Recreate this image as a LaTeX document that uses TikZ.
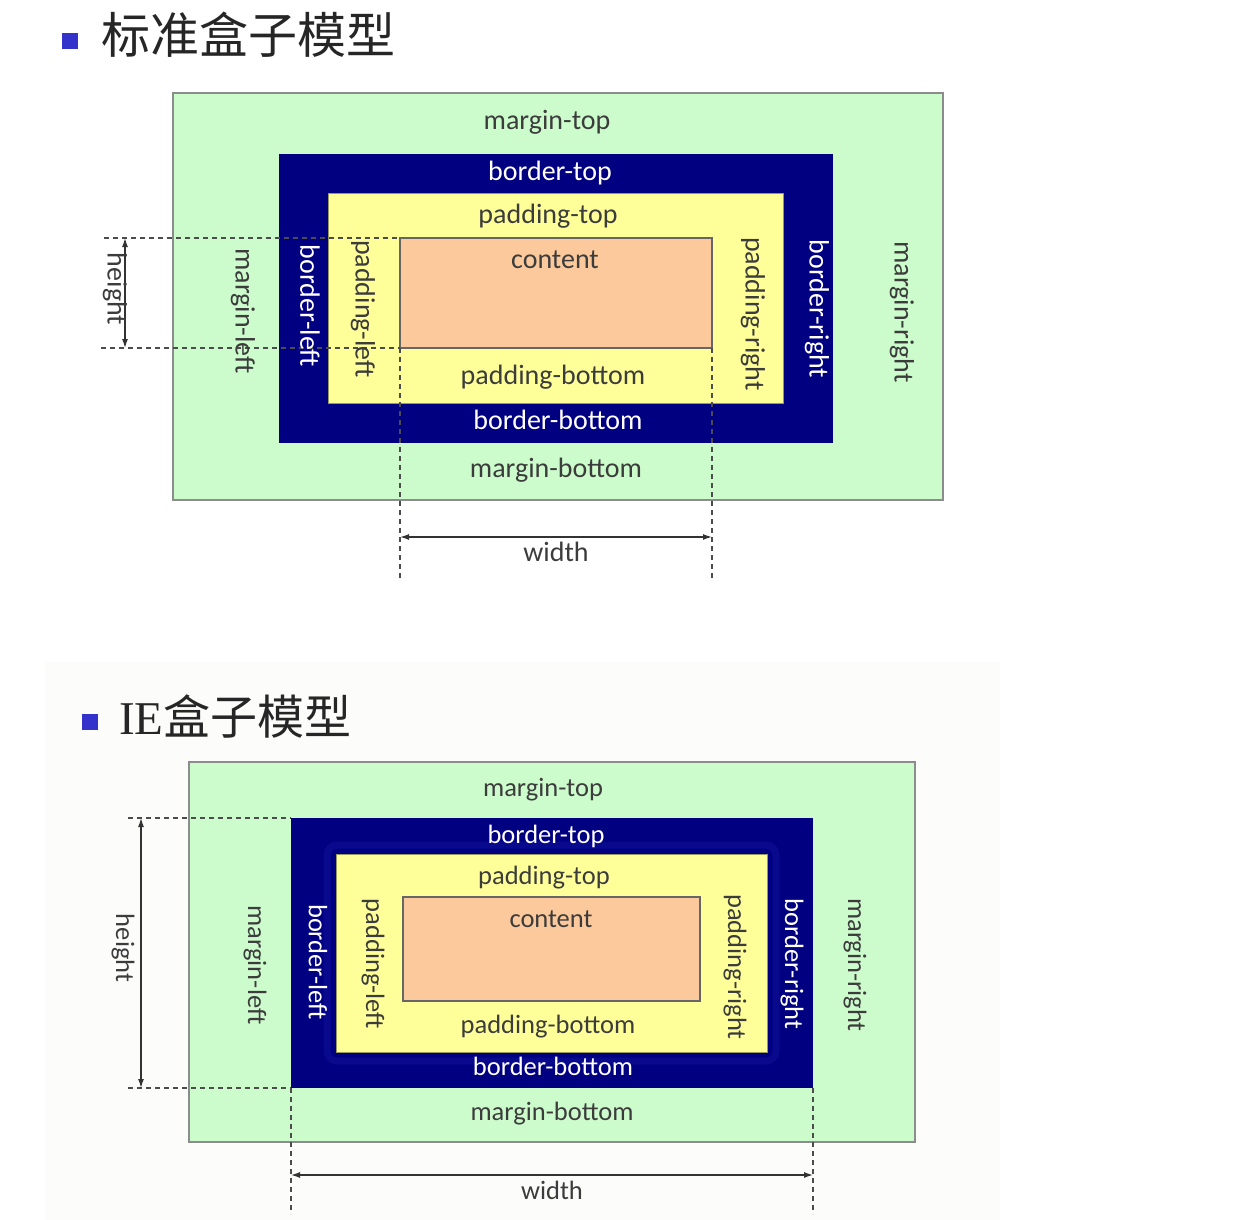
\documentclass[tikz,border=0pt]{standalone}
\usepackage{fontspec}
\setmainfont{Carlito}
\newfontfamily\cjkfont{Noto Sans CJK SC}
\newfontfamily\serifl{Liberation Serif}
\usetikzlibrary{arrows.meta}
\definecolor{mgreen}{HTML}{CCFBCC}
\definecolor{bnavy}{HTML}{000080}
\definecolor{pyellow}{HTML}{FFFF99}
\definecolor{cpeach}{HTML}{FBC99B}
\definecolor{txtgray}{HTML}{3C3C3C}
\definecolor{bulletblue}{HTML}{3333CC}
\definecolor{ringblue}{HTML}{1414A0}
\definecolor{faintbg}{HTML}{FCFCFB}
\begin{document}
\begin{tikzpicture}[x=1pt,y=-1pt,
  box/.style={rectangle, inner sep=0pt, outer sep=0pt},
  marginbox/.style={box, fill=mgreen, draw=black!45, line width=1.5pt},
  borderbox/.style={box, fill=bnavy},
  paddingbox/.style={box, fill=pyellow, draw=pyellow!60!black, line width=0.6pt},
  contentbox/.style={box, fill=cpeach, draw=black!60, line width=1.4pt},
  lbl/.style={text=txtgray, inner sep=0pt, font=\fontsize{28}{28}\selectfont},
  wlbl/.style={lbl, text=white},
  lbltwo/.style={text=txtgray, inner sep=0pt, font=\fontsize{26.5}{26.5}\selectfont},
  wlbltwo/.style={lbltwo, text=white},
  vl/.style={rotate=-90, anchor=center},
  hl/.style={anchor=base},
  dimline/.style={draw=black!70, line width=1.2pt, dash pattern=on 5pt off 4pt},
  dimarrow/.style={draw=black!80, line width=1.3pt, {Latex[length=9pt,width=6pt]}-{Latex[length=9pt,width=6pt]}},
  bulletsq/.style={box, fill=bulletblue, minimum size=16pt},
  titletxt/.style={anchor=west, inner sep=0pt, text=black!85},
]
\useasboundingbox (0,0) rectangle (1240,1220);
\fill[white] (0,0) rectangle (1240,1220);
\fill[faintbg] (45,662) rectangle (1000,1220);

% ---------- Standard box model ----------
\node[bulletsq] (bul1) at (70,41) {};
\node[titletxt, font=\cjkfont\fontsize{49}{49}\selectfont] (title1) at (101,35) {标准盒子模型};

\node[marginbox, minimum width=770pt, minimum height=407pt] (m1) at (558,296.5) {};
\node[borderbox, minimum width=554pt, minimum height=288pt] (b1) at (556,298.5) {};
\node[paddingbox, minimum width=455pt, minimum height=210pt] (p1) at (555.5,298) {};
\node[contentbox, minimum width=312pt, minimum height=110pt] (c1) at (556,293) {};

\coordinate (ht1) at (104,238);
\coordinate (hb1) at (101,348);
\coordinate (vl1) at (400,580);
\coordinate (vr1) at (712,580);
\draw[dimline] (ht1) -- (c1.north west);
\draw[dimline] (hb1) -- (c1.south west);
\draw[dimline] (c1.south west) -- (vl1);
\draw[dimline] (c1.south east) -- (vr1);
\coordinate (ha1) at (125,238);
\coordinate (hz1) at (125,348);
\draw[dimarrow] (ha1) -- (hz1);
\coordinate (wa1) at (400,537);
\coordinate (wz1) at (712,537);
\draw[dimarrow] (wa1) -- (wz1);

\node[lbl, hl] (mt1) at (547,130) {margin-top};
\node[wlbl, hl] (bt1) at (550,180) {border-top};
\node[lbl, hl] (pt1) at (548,223) {padding-top};
\node[lbl, hl] (ct1) at (555,268) {content};
\node[lbl, hl] (pb1) at (553,384) {padding-bottom};
\node[wlbl, hl] (bb1) at (558,429) {border-bottom};
\node[lbl, hl] (mb1) at (556,477) {margin-bottom};
\node[lbl, hl] (wd1) at (556,561) {width};

\node[lbl, vl] (hg1) at (115,289) {height};
\node[lbl, vl] (ml1) at (243,311) {margin-left};
\node[wlbl, vl] (bl1) at (310,306) {border-left};
\node[lbl, vl] (pl1) at (363,309) {padding-left};
\node[lbl, vl] (pr1) at (753,314) {padding-right};
\node[wlbl, vl] (br1) at (817,309) {border-right};
\node[lbl, vl] (mr1) at (902,312) {margin-right};

% ---------- IE box model ----------
\node[bulletsq] (bul2) at (90,722) {};
\node[titletxt] (title2) at (119,716) {\fontsize{47}{47}\selectfont\serifl IE\cjkfont 盒子模型};

\node[marginbox, minimum width=726pt, minimum height=380pt] (m2) at (552,952) {};
\node[borderbox, minimum width=522pt, minimum height=270pt] (b2) at (552,953) {};
\draw[ringblue, line width=7pt, rounded corners=10pt, opacity=0.45] (327,845) rectangle (776,1061);
\node[paddingbox, minimum width=431pt, minimum height=198pt] (p2) at (551.5,953) {};
\node[contentbox, minimum width=297pt, minimum height=104pt] (c2) at (551.5,949) {};

\coordinate (ht2) at (128,818);
\coordinate (hb2) at (128,1088);
\coordinate (vl2) at (291,1214);
\coordinate (vr2) at (813,1214);
\draw[dimline] (ht2) -- (b2.north west);
\draw[dimline] (hb2) -- (b2.south west);
\draw[dimline] (b2.south west) -- (vl2);
\draw[dimline] (b2.south east) -- (vr2);
\coordinate (ha2) at (141,818);
\coordinate (hz2) at (141,1088);
\draw[dimarrow] (ha2) -- (hz2);
\coordinate (wa2) at (291,1175);
\coordinate (wz2) at (813,1175);
\draw[dimarrow] (wa2) -- (wz2);

\node[lbltwo, hl] (mt2) at (543,796) {margin-top};
\node[wlbltwo, hl] (bt2) at (546,843) {border-top};
\node[lbltwo, hl] (pt2) at (544,884) {padding-top};
\node[lbltwo, hl] (ct2) at (551,927) {content};
\node[lbltwo, hl] (pb2) at (548,1033) {padding-bottom};
\node[wlbltwo, hl] (bb2) at (553,1075) {border-bottom};
\node[lbltwo, hl] (mb2) at (552,1120) {margin-bottom};
\node[lbltwo, hl] (wd2) at (552,1199) {width};

\node[lbltwo, vl] (hg2) at (123,948) {height};
\node[lbltwo, vl] (ml2) at (255,965) {margin-left};
\node[wlbltwo, vl] (bl2) at (318,962) {border-left};
\node[lbltwo, vl] (pl2) at (373,964) {padding-left};
\node[lbltwo, vl] (pr2) at (735,967) {padding-right};
\node[wlbltwo, vl] (br2) at (792,964) {border-right};
\node[lbltwo, vl] (mr2) at (855,965) {margin-right};
\end{tikzpicture}
\end{document}
